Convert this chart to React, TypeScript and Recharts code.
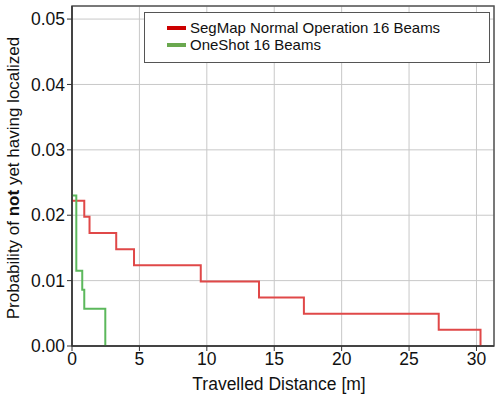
import React from 'react';
import { LineChart, Line, XAxis, YAxis, CartesianGrid, ReferenceArea, Label, Legend } from 'recharts';

const segMapX = [0, 0.91, 1.3, 3.28, 4.6, 9.55, 13.87, 17.2, 27.2, 30.3];
const segMapY = [0.0222, 0.01975, 0.01728, 0.01481, 0.01235, 0.00988, 0.00741, 0.00494, 0.00247, 0];
const oneShotX = [0, 0.32, 0.76, 0.91, 2.47];
const oneShotY = [0.023, 0.0115, 0.0086, 0.0057, 0];
const xTicks = [0, 5, 10, 15, 20, 25, 30];
const yTicks = [0, 0.01, 0.02, 0.03, 0.04, 0.05];
const seriesNames = ['SegMap Normal Operation 16 Beams', 'OneShot 16 Beams'];

const segMapData = segMapX.map((x, i) => ({ x, y: segMapY[i] }));
const oneShotData = oneShotX.map((x, i) => ({ x, y: oneShotY[i] }));

const FONT = '"Liberation Sans", Arial, sans-serif';

const YLabel = () => (
  <text
    x={0}
    y={0}
    transform="translate(19,178) rotate(-90)"
    textAnchor="middle"
    fontFamily={FONT}
    fontSize={17}
    fill="#111"
  >
    <tspan>Probability of </tspan>
    <tspan fontWeight="bold">not</tspan>
    <tspan> yet having localized</tspan>
  </text>
);

const XLabel = () => (
  <text x={279} y={390} textAnchor="middle" fontFamily={FONT} fontSize={17.5} fill="#111">
    Travelled Distance [m]
  </text>
);

const LegendBox = () => (
  <div
    style={{
      position: 'absolute',
      left: 144,
      top: 12,
      width: 346,
      height: 51,
      border: '1px solid #555',
      background: '#fff',
      fontFamily: FONT,
      fontSize: 15,
      color: '#111',
      boxSizing: 'border-box',
      paddingTop: 6,
      paddingLeft: 22,
    }}
  >
    {seriesNames.map((n, i) => (
      <div key={n} style={{ display: 'flex', alignItems: 'center', height: 17 }}>
        <span
          style={{
            display: 'inline-block',
            width: 19,
            height: 4,
            background: i === 0 ? '#cc0000' : '#6aa84f',
            marginRight: 4,
          }}
        />
        <span>{n}</span>
      </div>
    ))}
  </div>
);

export default function App() {
  return (
    <div style={{ position: 'absolute', left: 0, top: 0, width: 498, height: 399, background: '#fff' }}>
      <LineChart width={498} height={399} margin={{ top: 6, right: 4, left: 0, bottom: 0 }}>
        <CartesianGrid stroke="#c8c8c8" strokeWidth={1} />
        <XAxis
          dataKey="x"
          type="number"
          domain={[0, 31.3]}
          ticks={xTicks}
          allowDataOverflow
          height={53}
          tick={{ fontFamily: FONT, fontSize: 17.5, fill: '#111' }}
          tickSize={5}
          stroke="#333"
          axisLine={{ stroke: '#333', strokeWidth: 1.5 }}
          tickLine={{ stroke: '#333' }}
        >
          <Label content={XLabel} />
        </XAxis>
        <YAxis
          dataKey="y"
          type="number"
          domain={[0, 0.052]}
          ticks={yTicks}
          allowDataOverflow
          width={72}
          tickFormatter={(v: number) => v.toFixed(2)}
          tick={{ fontFamily: FONT, fontSize: 17.5, fill: '#111' }}
          tickSize={5}
          stroke="#333"
          axisLine={{ stroke: '#333', strokeWidth: 1.5 }}
          tickLine={{ stroke: '#333' }}
        >
          <Label content={YLabel} />
        </YAxis>
        <ReferenceArea x1={0} x2={31.3} y1={0} y2={0.052} fill="none" stroke="#555" strokeWidth={1.5} ifOverflow="visible" />
        <Line
          data={segMapData}
          dataKey="y"
          type="stepAfter"
          stroke="#e04848"
          strokeWidth={2}
          dot={false}
          isAnimationActive={false}
          name={seriesNames[0]}
        />
        <Line
          data={oneShotData}
          dataKey="y"
          type="stepAfter"
          stroke="#5cb85c"
          strokeWidth={2}
          dot={false}
          isAnimationActive={false}
          name={seriesNames[1]}
        />
        <Legend content={LegendBox} wrapperStyle={{ position: 'absolute', left: 0, top: 0, width: 0, height: 0 }} />
      </LineChart>
    </div>
  );
}
